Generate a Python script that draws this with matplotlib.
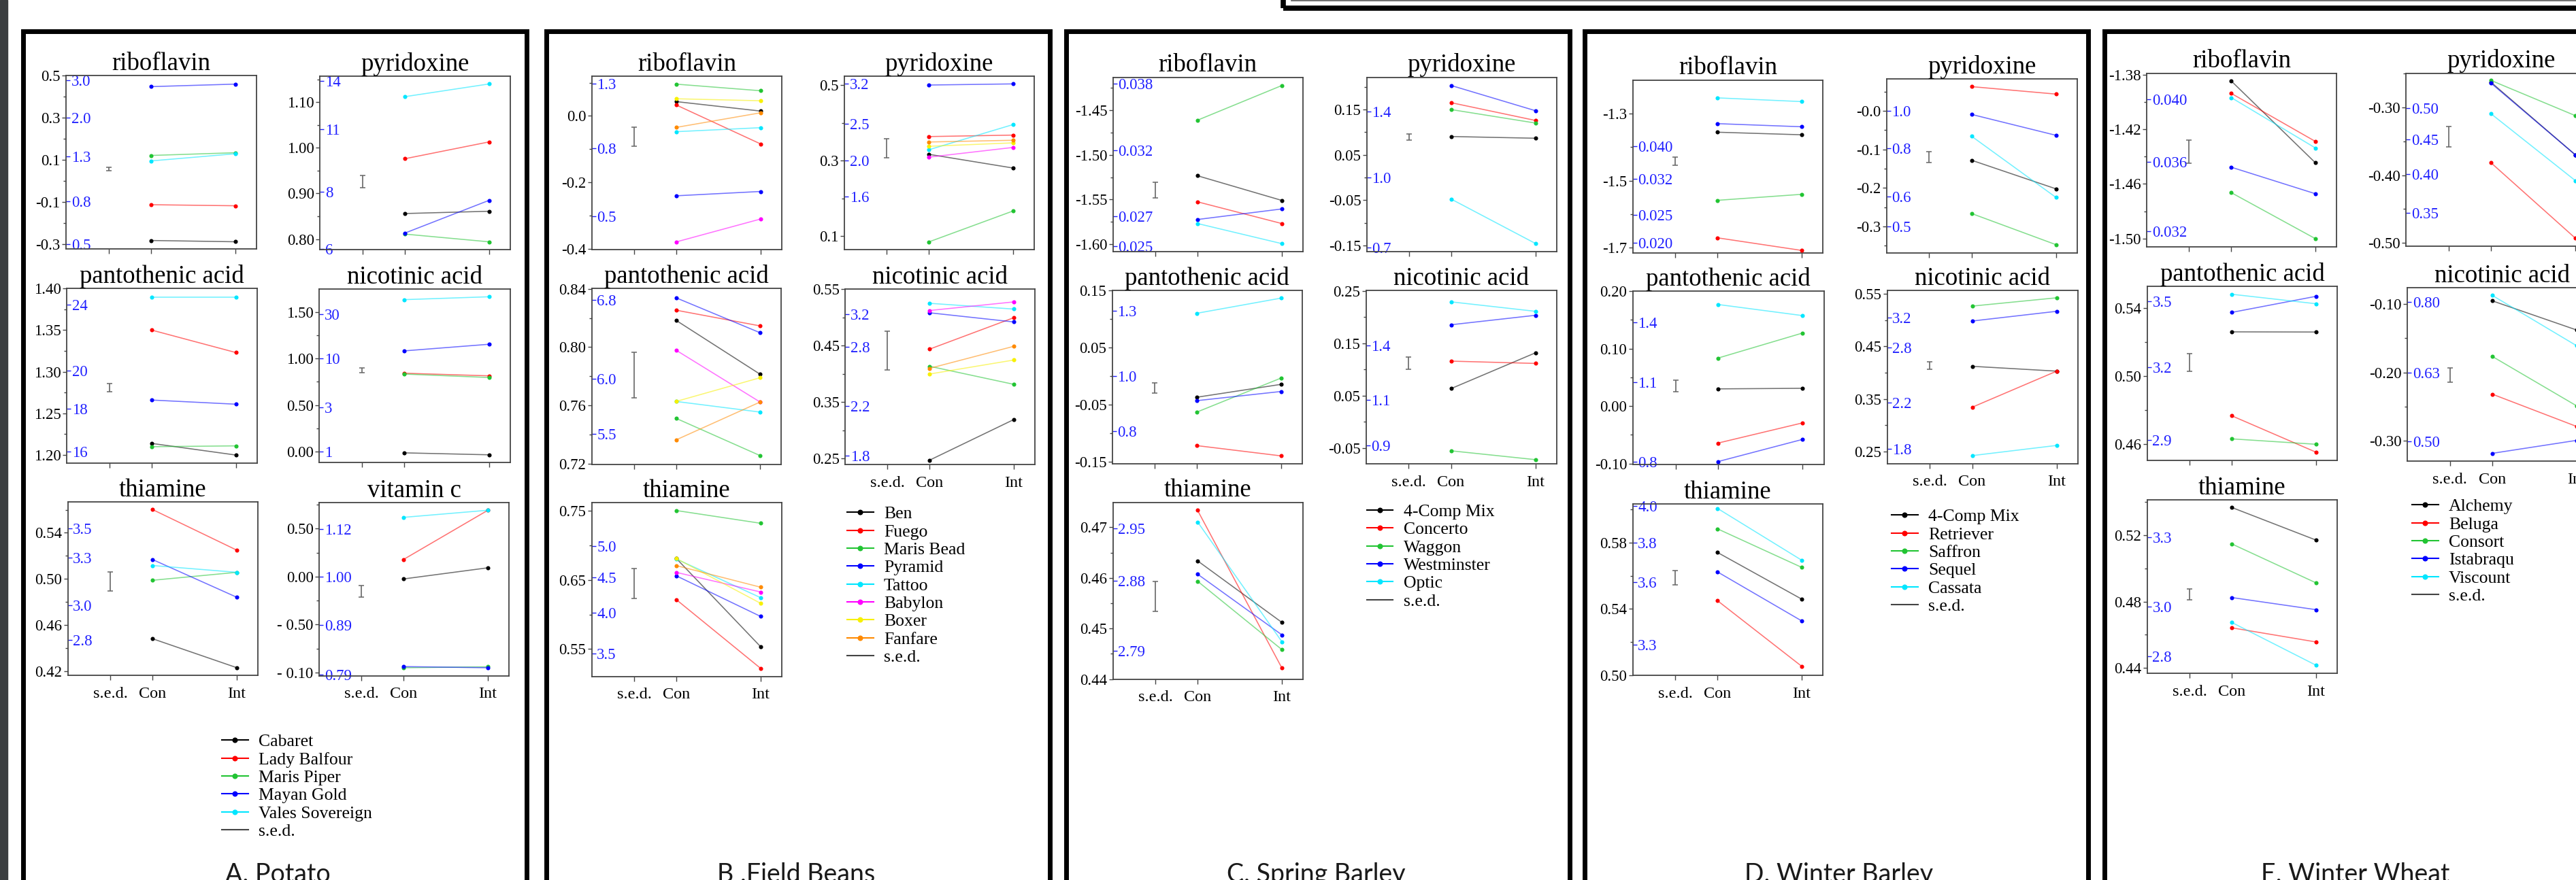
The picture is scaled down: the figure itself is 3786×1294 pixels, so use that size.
import numpy as np
import matplotlib
matplotlib.use("Agg")
import matplotlib.pyplot as plt
from matplotlib.lines import Line2D
from matplotlib.patches import Rectangle
from matplotlib.ticker import AutoMinorLocator, NullLocator

# ------------------------------------------------------------------ data
x_tick_labels = ["s.e.d.", "Con", "Int"]
x_tick_pos = [0, 1, 3]

# ---- A. Potato
potato_varieties = ["Cabaret", "Lady Balfour", "Maris Piper", "Mayan Gold", "Vales Sovereign"]
potato_ribo_con = [-0.284, -0.114, 0.120, 0.447, 0.094]
potato_ribo_int = [-0.290, -0.119, 0.133, 0.459, 0.128]
potato_ribo_sed = [0.057, 0.008]
potato_pyr_con = [0.856, 0.976, 0.811, 0.813, 1.112]
potato_pyr_int = [0.861, 1.013, 0.794, 0.885, 1.140]
potato_pyr_sed = [0.926, 0.014]
potato_pan_con = [1.214, 1.350, 1.210, 1.266, 1.389]
potato_pan_int = [1.200, 1.323, 1.211, 1.261, 1.389]
potato_pan_sed = [1.281, 0.005]
potato_nic_con = [-0.013, 0.842, 0.833, 1.082, 1.632]
potato_nic_int = [-0.034, 0.814, 0.796, 1.153, 1.663]
potato_nic_sed = [0.874, 0.026]
potato_thi_con = [0.4483, 0.5602, 0.4989, 0.5169, 0.5117]
potato_thi_int = [0.4232, 0.5250, 0.5058, 0.4842, 0.5058]
potato_thi_sed = [0.498, 0.0081]
potato_vitc_con = [-0.0024, 0.018, -0.095, -0.0938, 0.0618]
potato_vitc_int = [0.0092, 0.0692, -0.094, -0.095, 0.0692]
potato_vitc_sed = [-0.0151, 0.0059]

# ---- B. Field beans
beans_varieties = ["Ben", "Fuego", "Maris Bead", "Pyramid", "Tattoo", "Babylon", "Boxer", "Fanfare"]
beans_ribo_con = [0.043, 0.0327, 0.0955, -0.240, -0.0473, -0.3785, 0.0516, -0.0344]
beans_ribo_int = [0.0146, -0.0843, 0.0757, -0.227, -0.0353, -0.3097, 0.0456, 0.0095]
beans_ribo_sed = [-0.062, 0.029]
beans_pyr_con = [0.317, 0.3641, 0.0848, 0.5008, 0.3292, 0.3095, 0.3383, 0.3497]
beans_pyr_int = [0.2806, 0.368, 0.1668, 0.5038, 0.396, 0.3353, 0.3474, 0.3543]
beans_pyr_sed = [0.3334, 0.0254]
beans_pan_con = [0.8184, 0.8254, 0.7511, 0.8339, 0.7627, 0.7979, 0.7627, 0.7363]
beans_pan_int = [0.7814, 0.8146, 0.7255, 0.8099, 0.7554, 0.7623, 0.779, 0.7623]
beans_pan_sed = [0.7808, 0.0156]
beans_nic_con = [0.247, 0.4436, 0.4132, 0.5079, 0.5247, 0.512, 0.3995, 0.4096]
beans_nic_int = [0.3189, 0.4993, 0.3812, 0.4917, 0.5145, 0.5272, 0.4243, 0.4486]
beans_nic_sed = [0.4413, 0.0342]
beans_thi_con = [0.6807, 0.6213, 0.75, 0.6557, 0.680, 0.6607, 0.6807, 0.6705]
beans_thi_int = [0.5533, 0.5221, 0.7316, 0.5971, 0.6242, 0.6324, 0.616, 0.6393]
beans_thi_sed = [0.6447, 0.0213]

# ---- C. Spring barley
sbarley_varieties = ["4-Comp Mix", "Concerto", "Waggon", "Westminster", "Optic"]
sbarley_ribo_con = [-1.5234, -1.5526, -1.4612, -1.5724, -1.5769]
sbarley_ribo_int = [-1.551, -1.5769, -1.4224, -1.5606, -1.5994]
sbarley_ribo_sed = [-1.5397, 0.0087]
sbarley_pyr_con = [0.0906, 0.1652, 0.150, 0.2031, -0.0477]
sbarley_pyr_int = [0.0868, 0.126, 0.1203, 0.1475, -0.1456]
sbarley_pyr_sed = [0.0894, 0.007]
sbarley_pan_con = [-0.0372, -0.122, -0.0632, -0.0432, 0.1099]
sbarley_pan_int = [-0.0146, -0.140, -0.0035, -0.0271, 0.1365]
sbarley_pan_sed = [-0.0206, 0.009]
sbarley_nic_con = [0.0633, 0.1159, -0.0555, 0.1854, 0.2292]
sbarley_nic_int = [0.1318, 0.1115, -0.0724, 0.2035, 0.2111]
sbarley_nic_sed = [0.112, 0.0115]
sbarley_thi_con = [0.46338, 0.47336, 0.45935, 0.46075, 0.47107]
sbarley_thi_int = [0.45121, 0.44219, 0.44583, 0.44875, 0.44740]
sbarley_thi_sed = [0.45632, 0.00297]

# ---- D. Winter barley
wbarley_varieties = ["4-Comp Mix", "Retriever", "Saffron", "Sequel", "Cassata"]
wbarley_ribo_con = [-1.3554, -1.6701, -1.5584, -1.3299, -1.2531]
wbarley_ribo_int = [-1.3631, -1.7077, -1.5405, -1.3392, -1.2642]
wbarley_ribo_sed = [-1.4412, 0.0124]
wbarley_pyr_con = [-0.128, 0.0633, -0.2665, -0.0089, -0.0655]
wbarley_pyr_int = [-0.2025, 0.0439, -0.3476, -0.0633, -0.2248]
wbarley_pyr_sed = [-0.1195, 0.0138]
wbarley_pan_con = [0.0299, -0.0644, 0.0834, -0.0966, 0.1767]
wbarley_pan_int = [0.0309, -0.0292, 0.1271, -0.0579, 0.1573]
wbarley_pan_sed = [0.0353, 0.0099]
wbarley_nic_con = [0.412, 0.3341, 0.5266, 0.4982, 0.242]
wbarley_nic_int = [0.4028, 0.4028, 0.5424, 0.5167, 0.2614]
wbarley_nic_sed = [0.4134, 0.0068]
wbarley_thi_con = [0.574, 0.545, 0.5882, 0.5623, 0.6005]
wbarley_thi_int = [0.5459, 0.5055, 0.565, 0.5328, 0.5693]
wbarley_thi_sed = [0.5588, 0.0043]

# ---- E. Winter wheat
wheat_varieties = ["Alchemy", "Beluga", "Consort", "Istabraqu", "Viscount"]
wheat_ribo_con = [-1.3844, -1.3935, -1.4664, -1.4477, -1.3966]
wheat_ribo_int = [-1.4445, -1.4288, -1.5002, -1.4672, -1.4336]
wheat_ribo_sed = [-1.4363, 0.0084]
wheat_pyr_con = [-0.2623, -0.3814, -0.2597, -0.2636, -0.3089]
wheat_pyr_int = [-0.3699, -0.4932, -0.3119, -0.3699, -0.408]
wheat_pyr_sed = [-0.343, 0.015]
wheat_pan_con = [0.5261, 0.4765, 0.4629, 0.5376, 0.5483]
wheat_pan_int = [0.526, 0.455, 0.4597, 0.5471, 0.5427]
wheat_pan_sed = [0.5081, 0.0052]
wheat_nic_con = [-0.0954, -0.2318, -0.1766, -0.3184, -0.0874]
wheat_nic_int = [-0.1381, -0.2791, -0.249, -0.2994, -0.1611]
wheat_nic_sed = [-0.2038, 0.0105]
wheat_thi_con = [0.5365, 0.4642, 0.5146, 0.4824, 0.4674]
wheat_thi_int = [0.5169, 0.4557, 0.4912, 0.4751, 0.4417]
wheat_thi_sed = [0.4844, 0.0032]

# ---- tick values / labels (log10 scale in black, back-transformed in blue)
potato_ribo_ticks = [0.5, 0.3, 0.1, -0.1, -0.3]
potato_ribo_tick_labels = ["0.5", "0.3", "0.1", "-0.1", "-0.3"]
potato_ribo_back = [3.0, 2.0, 1.3, 0.8, 0.5]
potato_ribo_back_labels = ["3.0", "2.0", "1.3", "0.8", "0.5"]
potato_pyr_ticks = [1.10, 1.00, 0.90, 0.80]
potato_pyr_tick_labels = ["1.10", "1.00", "0.90", "0.80"]
potato_pyr_back = [14, 11, 8, 6]
potato_pyr_back_labels = ["14", "11", "8", "6"]
potato_pan_ticks = [1.40, 1.35, 1.30, 1.25, 1.20]
potato_pan_tick_labels = ["1.40", "1.35", "1.30", "1.25", "1.20"]
potato_pan_back = [24, 20, 18, 16]
potato_pan_back_labels = ["24", "20", "18", "16"]
potato_nic_ticks = [1.50, 1.00, 0.50, 0.00]
potato_nic_tick_labels = ["1.50", "1.00", "0.50", "0.00"]
potato_nic_back = [30, 10, 3, 1]
potato_nic_back_labels = ["30", "10", "3", "1"]
potato_thi_ticks = [0.54, 0.50, 0.46, 0.42]
potato_thi_tick_labels = ["0.54", "0.50", "0.46", "0.42"]
potato_thi_back = [3.5, 3.3, 3.0, 2.8]
potato_thi_back_labels = ["3.5", "3.3", "3.0", "2.8"]
potato_vitc_ticks = [0.05, 0.00, -0.05, -0.10]
potato_vitc_tick_labels = ["0.50", "0.00", "- 0.50", "- 0.10"]
potato_vitc_back = [1.12, 1.00, 0.89, 0.79]
potato_vitc_back_labels = ["1.12", "1.00", "0.89", "0.79"]

beans_ribo_ticks = [0.0, -0.2, -0.4]
beans_ribo_tick_labels = ["0.0", "-0.2", "-0.4"]
beans_ribo_back = [1.25, 0.8, 0.5]
beans_ribo_back_labels = ["1.3", "0.8", "0.5"]
beans_pyr_ticks = [0.5, 0.3, 0.1]
beans_pyr_tick_labels = ["0.5", "0.3", "0.1"]
beans_pyr_back = [3.2, 2.5, 2.0, 1.6]
beans_pyr_back_labels = ["3.2", "2.5", "2.0", "1.6"]
beans_pan_ticks = [0.84, 0.80, 0.76, 0.72]
beans_pan_tick_labels = ["0.84", "0.80", "0.76", "0.72"]
beans_pan_back = [6.8, 6.0, 5.5]
beans_pan_back_labels = ["6.8", "6.0", "5.5"]
beans_nic_ticks = [0.55, 0.45, 0.35, 0.25]
beans_nic_tick_labels = ["0.55", "0.45", "0.35", "0.25"]
beans_nic_back = [3.2, 2.8, 2.2, 1.8]
beans_nic_back_labels = ["3.2", "2.8", "2.2", "1.8"]
beans_thi_ticks = [0.75, 0.65, 0.55]
beans_thi_tick_labels = ["0.75", "0.65", "0.55"]
beans_thi_back = [5.0, 4.5, 4.0, 3.5]
beans_thi_back_labels = ["5.0", "4.5", "4.0", "3.5"]

sbarley_ribo_ticks = [-1.45, -1.50, -1.55, -1.60]
sbarley_ribo_tick_labels = ["-1.45", "-1.50", "-1.55", "-1.60"]
sbarley_ribo_back = [0.038, 0.032, 0.027, 0.025]
sbarley_ribo_back_labels = ["0.038", "0.032", "0.027", "0.025"]
sbarley_pyr_ticks = [0.15, 0.05, -0.05, -0.15]
sbarley_pyr_tick_labels = ["0.15", "0.05", "-0.05", "-0.15"]
sbarley_pyr_back = [1.4, 1.0, 0.7]
sbarley_pyr_back_labels = ["1.4", "1.0", "0.7"]
sbarley_pan_ticks = [0.15, 0.05, -0.05, -0.15]
sbarley_pan_tick_labels = ["0.15", "0.05", "-0.05", "-0.15"]
sbarley_pan_back = [1.3, 1.0, 0.8]
sbarley_pan_back_labels = ["1.3", "1.0", "0.8"]
sbarley_nic_ticks = [0.25, 0.15, 0.05, -0.05]
sbarley_nic_tick_labels = ["0.25", "0.15", "0.05", "-0.05"]
sbarley_nic_back = [1.4, 1.1, 0.9]
sbarley_nic_back_labels = ["1.4", "1.1", "0.9"]
sbarley_thi_ticks = [0.47, 0.46, 0.45, 0.44]
sbarley_thi_tick_labels = ["0.47", "0.46", "0.45", "0.44"]
sbarley_thi_back = [2.95, 2.88, 2.79]
sbarley_thi_back_labels = ["2.95", "2.88", "2.79"]

wbarley_ribo_ticks = [-1.3, -1.5, -1.7]
wbarley_ribo_tick_labels = ["-1.3", "-1.5", "-1.7"]
wbarley_ribo_back = [0.040, 0.032, 0.025, 0.0207]
wbarley_ribo_back_labels = ["0.040", "0.032", "0.025", "0.020"]
wbarley_pyr_ticks = [0.0, -0.1, -0.2, -0.3]
wbarley_pyr_tick_labels = ["-0.0", "-0.1", "-0.2", "-0.3"]
wbarley_pyr_back = [1.0, 0.8, 0.6, 0.5]
wbarley_pyr_back_labels = ["1.0", "0.8", "0.6", "0.5"]
wbarley_pan_ticks = [0.20, 0.10, 0.00, -0.10]
wbarley_pan_tick_labels = ["0.20", "0.10", "0.00", "-0.10"]
wbarley_pan_back = [1.4, 1.1, 0.8]
wbarley_pan_back_labels = ["1.4", "1.1", "0.8"]
wbarley_nic_ticks = [0.55, 0.45, 0.35, 0.25]
wbarley_nic_tick_labels = ["0.55", "0.45", "0.35", "0.25"]
wbarley_nic_back = [3.2, 2.8, 2.2, 1.8]
wbarley_nic_back_labels = ["3.2", "2.8", "2.2", "1.8"]
wbarley_thi_ticks = [0.58, 0.54, 0.50]
wbarley_thi_tick_labels = ["0.58", "0.54", "0.50"]
wbarley_thi_back = [4.0, 3.8, 3.6, 3.3]
wbarley_thi_back_labels = ["4.0", "3.8", "3.6", "3.3"]

wheat_ribo_ticks = [-1.38, -1.42, -1.46, -1.50]
wheat_ribo_tick_labels = ["-1.38", "-1.42", "-1.46", "-1.50"]
wheat_ribo_back = [0.040, 0.036, 0.032]
wheat_ribo_back_labels = ["0.040", "0.036", "0.032"]
wheat_pyr_ticks = [-0.30, -0.40, -0.50]
wheat_pyr_tick_labels = ["-0.30", "-0.40", "-0.50"]
wheat_pyr_back = [0.50, 0.45, 0.40, 0.35]
wheat_pyr_back_labels = ["0.50", "0.45", "0.40", "0.35"]
wheat_pan_ticks = [0.54, 0.50, 0.46]
wheat_pan_tick_labels = ["0.54", "0.50", "0.46"]
wheat_pan_back = [3.5, 3.2, 2.9]
wheat_pan_back_labels = ["3.5", "3.2", "2.9"]
wheat_nic_ticks = [-0.10, -0.20, -0.30]
wheat_nic_tick_labels = ["-0.10", "-0.20", "-0.30"]
wheat_nic_back = [0.80, 0.63, 0.50]
wheat_nic_back_labels = ["0.80", "0.63", "0.50"]
wheat_thi_ticks = [0.52, 0.48, 0.44]
wheat_thi_tick_labels = ["0.52", "0.48", "0.44"]
wheat_thi_back = [3.3, 3.0, 2.8]
wheat_thi_back_labels = ["3.3", "3.0", "2.8"]

panel_labels = ["A. Potato", "B .Field Beans", "C. Spring Barley", "D. Winter Barley", "E. Winter Wheat"]

# ------------------------------------------------------------------ style
COL5 = ["#000000", "#ff0000", "#22c433", "#0000ff", "#00e6ff"]
COL8 = ["#000000", "#ff0000", "#22c433", "#0000ff", "#00e6ff", "#ff00ff", "#f7f000", "#ff8a00"]
BLUE_LAB = "#2020ff"

W, H, DPI = 3786, 1294, 100
plt.rcParams["font.family"] = ["Liberation Serif", "DejaVu Serif"]
fig = plt.figure(figsize=(W / DPI, H / DPI), dpi=DPI)
fig.patch.set_facecolor("white")


def fx(px):
    return px / W


def fy(py):
    return 1 - py / H


def add_axes_px(box):
    x0, y0, x1, y1 = box
    return fig.add_axes([fx(x0), fy(y1), (x1 - x0) / W, (y1 - y0) / H])


def draw_sub(box, ylim, title, con, itv, sed, ticks, tick_labels, back, back_labels, colors, show_x):
    ax = add_axes_px(box)
    ax.set_facecolor("white")
    ax.set_xlim(-1.01, 3.5)
    ax.set_ylim(*ylim)
    xs = [x_tick_pos[1], x_tick_pos[2]]
    for c, a, b in zip(colors, con, itv):
        ax.plot(xs, [a, b], color=c, lw=1.15, alpha=0.55, zorder=2)
        ax.plot(xs, [a, b], ls="none", marker="o", ms=4.4, color=c, mec="none", zorder=3)
    ax.errorbar([x_tick_pos[0]], [sed[0]], yerr=[sed[1]], fmt="none", ecolor="#666666",
                elinewidth=1.2, capsize=3, capthick=1.1, zorder=2)
    order = np.argsort(ticks)
    ax.set_yticks([ticks[i] for i in order], [tick_labels[i] for i in order])
    ax.yaxis.set_minor_locator(AutoMinorLocator(2))
    ax.set_xticks(x_tick_pos, x_tick_labels if show_x else ["", "", ""])
    ax.tick_params(axis="y", which="both", direction="out", length=4, width=1, color="#444444",
                   labelsize=16.5, pad=2)
    ax.tick_params(axis="y", which="minor", length=3)
    ax.tick_params(axis="x", direction="out", length=5, width=1, color="#444444",
                   labelsize=17.5, pad=7)
    for s in ["top", "right", "bottom", "left"]:
        ax.spines[s].set_color("#444444")
        ax.spines[s].set_linewidth(1.3)
    ax.set_title(title, fontsize=26.5, pad=6)

    sec = ax.secondary_yaxis("left", functions=(lambda y: 10 ** y, lambda v: np.log10(v)))
    sec.spines["left"].set_visible(False)
    sec.tick_params(axis="y", direction="in", length=4, width=1, colors=BLUE_LAB,
                    labelsize=16.5, pad=-5.5)
    sec.set_yticks(back, back_labels, ha="left", color=BLUE_LAB)
    sec.yaxis.set_minor_locator(NullLocator())
    return ax


def legend_px(varieties, colors, x, ycenter):
    handles = [Line2D([], [], color=c, marker="o", ms=5.8, mec="none", lw=1.5) for c in colors]
    handles.append(Line2D([], [], color="#444444", lw=1.5))
    labels = list(varieties) + ["s.e.d."]
    fig.legend(handles, labels, loc="upper left", bbox_to_anchor=(fx(x), fy(ycenter - 12.5)),
               frameon=False, borderpad=0, borderaxespad=0, handlelength=1.5,
               handletextpad=0.6, labelspacing=0.13, fontsize=18.5, numpoints=1)


def frame(xl, xr):
    fig.add_artist(Rectangle((fx(xl), -0.2), (xr - xl) / W, fy(46) + 0.2, transform=fig.transFigure,
                             fill=False, ec="black", lw=5, zorder=10))


# background strip at far left and the boxed element at the top right
fig.add_artist(Rectangle((0, 0), fx(11), 1, transform=fig.transFigure, color="#3b3e40", zorder=0))
fig.add_artist(Rectangle((fx(1886), fy(11.5)), fx(2000), 0.2, transform=fig.transFigure,
                         fill=False, ec="black", lw=5.5, zorder=10))
fig.add_artist(Line2D([fx(1898), 1.0], [fy(1.2), fy(1.2)], transform=fig.transFigure,
                      color="#555555", lw=1.2, zorder=10))

# ------------------------------------------------------------------ panels
titles = ["riboflavin", "pyridoxine", "pantothenic acid", "nicotinic acid", "thiamine", "vitamin c"]

# A. Potato
frame(34, 774)
draw_sub((97, 111, 376.5, 366), (-0.324, 0.5), titles[0], potato_ribo_con, potato_ribo_int, potato_ribo_sed,
         potato_ribo_ticks, potato_ribo_tick_labels, potato_ribo_back, potato_ribo_back_labels, COL5, False)
draw_sub((470, 112, 750, 367), (0.777, 1.157), titles[1], potato_pyr_con, potato_pyr_int, potato_pyr_sed,
         potato_pyr_ticks, potato_pyr_tick_labels, potato_pyr_back, potato_pyr_back_labels, COL5, False)
draw_sub((98, 424, 377.5, 680.5), (1.1907, 1.40), titles[2], potato_pan_con, potato_pan_int, potato_pan_sed,
         potato_pan_ticks, potato_pan_tick_labels, potato_pan_back, potato_pan_back_labels, COL5, False)
draw_sub((469, 425, 750, 680), (-0.116, 1.746), titles[3], potato_nic_con, potato_nic_int, potato_nic_sed,
         potato_nic_ticks, potato_nic_tick_labels, potato_nic_back, potato_nic_back_labels, COL5, False)
draw_sub((99.5, 738, 379, 993), (0.4166, 0.5668), titles[4], potato_thi_con, potato_thi_int, potato_thi_sed,
         potato_thi_ticks, potato_thi_tick_labels, potato_thi_back, potato_thi_back_labels, COL5, True)
draw_sub((469, 739, 748, 993.6), (-0.1033, 0.0772), titles[5], potato_vitc_con, potato_vitc_int, potato_vitc_sed,
         potato_vitc_ticks, potato_vitc_tick_labels, potato_vitc_back, potato_vitc_back_labels, COL5, True)
legend_px(potato_varieties, COL5, 326, 1092)

# B. Field beans
frame(802.5, 1542.5)
draw_sub((869.6, 112.4, 1149, 367), (-0.4017, 0.1187), titles[0], beans_ribo_con, beans_ribo_int, beans_ribo_sed,
         beans_ribo_ticks, beans_ribo_tick_labels, beans_ribo_back, beans_ribo_back_labels, COL8, False)
draw_sub((1241, 112, 1520, 367), (0.0643, 0.5243), titles[1], beans_pyr_con, beans_pyr_int, beans_pyr_sed,
         beans_pyr_ticks, beans_pyr_tick_labels, beans_pyr_back, beans_pyr_back_labels, COL8, False)
draw_sub((869.6, 424, 1148, 683), (0.7194, 0.8404), titles[2], beans_pan_con, beans_pan_int, beans_pan_sed,
         beans_pan_ticks, beans_pan_tick_labels, beans_pan_back, beans_pan_back_labels, COL8, False)
draw_sub((1242, 425, 1521, 683), (0.2393, 0.55), titles[3], beans_nic_con, beans_nic_int, beans_nic_sed,
         beans_nic_ticks, beans_nic_tick_labels, beans_nic_back, beans_nic_back_labels, COL8, True)
draw_sub((869.6, 739, 1149, 994.5), (0.5107, 0.7615), titles[4], beans_thi_con, beans_thi_int, beans_thi_sed,
         beans_thi_ticks, beans_thi_tick_labels, beans_thi_back, beans_thi_back_labels, COL8, True)
legend_px(beans_varieties, COL8, 1245, 757)

# C. Spring barley
frame(1567, 2306.5)
draw_sub((1635.6, 113.6, 1914.7, 369.5), (-1.608, -1.4131), titles[0], sbarley_ribo_con, sbarley_ribo_int,
         sbarley_ribo_sed, sbarley_ribo_ticks, sbarley_ribo_tick_labels, sbarley_ribo_back,
         sbarley_ribo_back_labels, COL5, False)
draw_sub((2008.7, 113.6, 2287.8, 369.5), (-0.1627, 0.2214), titles[1], sbarley_pyr_con, sbarley_pyr_int,
         sbarley_pyr_sed, sbarley_pyr_ticks, sbarley_pyr_tick_labels, sbarley_pyr_back,
         sbarley_pyr_back_labels, COL5, False)
draw_sub((1634.6, 427, 1914, 681.7), (-0.1535, 0.15), titles[2], sbarley_pan_con, sbarley_pan_int,
         sbarley_pan_sed, sbarley_pan_ticks, sbarley_pan_tick_labels, sbarley_pan_back,
         sbarley_pan_back_labels, COL5, False)
draw_sub((2007.7, 427, 2287.8, 682.5), (-0.081, 0.2511), titles[3], sbarley_nic_con, sbarley_nic_int,
         sbarley_nic_sed, sbarley_nic_ticks, sbarley_nic_tick_labels, sbarley_nic_back,
         sbarley_nic_back_labels, COL5, True)
draw_sub((1635.6, 738.8, 1915, 998.6), (0.44, 0.47493), titles[4], sbarley_thi_con, sbarley_thi_int,
         sbarley_thi_sed, sbarley_thi_ticks, sbarley_thi_tick_labels, sbarley_thi_back,
         sbarley_thi_back_labels, COL5, True)
legend_px(sbarley_varieties, COL5, 2008.7, 753.4)

# D. Winter barley
frame(2328.5, 3068.5)
draw_sub((2399.6, 117.8, 2679, 371.6), (-1.7145, -1.2002), titles[0], wbarley_ribo_con, wbarley_ribo_int,
         wbarley_ribo_sed, wbarley_ribo_ticks, wbarley_ribo_tick_labels, wbarley_ribo_back,
         wbarley_ribo_back_labels, COL5, False)
draw_sub((2772.7, 116, 3052.8, 371.6), (-0.3685, 0.0834), titles[1], wbarley_pyr_con, wbarley_pyr_int,
         wbarley_pyr_sed, wbarley_pyr_ticks, wbarley_pyr_tick_labels, wbarley_pyr_back,
         wbarley_pyr_back_labels, COL5, False)
draw_sub((2399.6, 428, 2680.6, 683), (-0.1016, 0.199), titles[2], wbarley_pan_con, wbarley_pan_int,
         wbarley_pan_sed, wbarley_pan_ticks, wbarley_pan_tick_labels, wbarley_pan_back,
         wbarley_pan_back_labels, COL5, False)
draw_sub((2773.7, 427, 3053.8, 681.7), (0.2268, 0.5565), titles[3], wbarley_nic_con, wbarley_nic_int,
         wbarley_nic_sed, wbarley_nic_ticks, wbarley_nic_tick_labels, wbarley_nic_back,
         wbarley_nic_back_labels, COL5, True)
draw_sub((2399.6, 740.9, 2679, 993.2), (0.50, 0.6032), titles[4], wbarley_thi_con, wbarley_thi_int,
         wbarley_thi_sed, wbarley_thi_ticks, wbarley_thi_tick_labels, wbarley_thi_back,
         wbarley_thi_back_labels, COL5, True)
legend_px(wbarley_varieties, COL5, 2780, 761)

# E. Winter wheat
frame(3092.5, 3950)
draw_sub((3155, 107.7, 3434, 362.8), (-1.5061, -1.3787), titles[0], wheat_ribo_con, wheat_ribo_int,
         wheat_ribo_sed, wheat_ribo_ticks, wheat_ribo_tick_labels, wheat_ribo_back,
         wheat_ribo_back_labels, COL5, False)
draw_sub((3536, 107.7, 3816, 362), (-0.5051, -0.2492), titles[1], wheat_pyr_con, wheat_pyr_int,
         wheat_pyr_sed, wheat_pyr_ticks, wheat_pyr_tick_labels, wheat_pyr_back,
         wheat_pyr_back_labels, COL5, False)
draw_sub((3155.8, 421, 3435, 676.7), (0.4503, 0.553), titles[2], wheat_pan_con, wheat_pan_int,
         wheat_pan_sed, wheat_pan_ticks, wheat_pan_tick_labels, wheat_pan_back,
         wheat_pan_back_labels, COL5, False)
draw_sub((3538, 423, 3818, 678), (-0.3297, -0.0762), titles[3], wheat_nic_con, wheat_nic_int,
         wheat_nic_sed, wheat_nic_ticks, wheat_nic_tick_labels, wheat_nic_back,
         wheat_nic_back_labels, COL5, True)
draw_sub((3155.8, 735, 3435, 990), (0.4369, 0.5411), titles[4], wheat_thi_con, wheat_thi_int,
         wheat_thi_sed, wheat_thi_ticks, wheat_thi_tick_labels, wheat_thi_back,
         wheat_thi_back_labels, COL5, True)
legend_px(wheat_varieties, COL5, 3545, 746)

# panel captions (cut by the lower edge as in the source)
for lab, xc in zip(panel_labels, [408, 1170, 1934, 2703, 3462]):
    fig.text(fx(xc), fy(1297), lab, ha="center", va="baseline", fontsize=27,
             family=["Lato", "DejaVu Sans"], color="#1a1a1a")

fig.savefig("out.png", dpi=DPI, facecolor="white")
